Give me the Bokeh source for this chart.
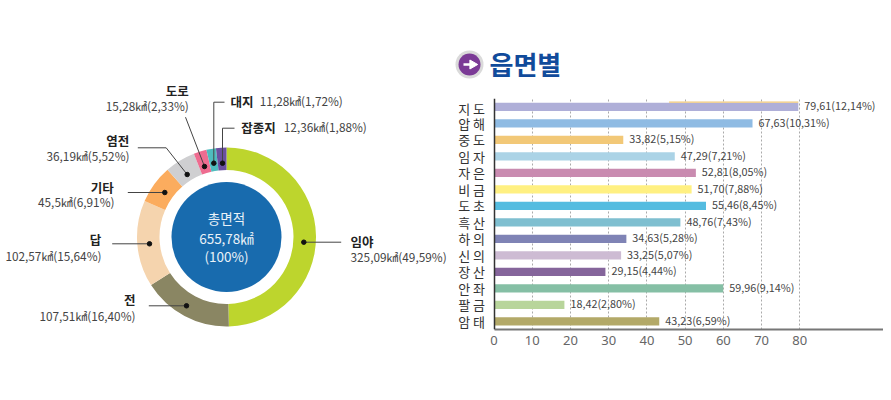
import math
from bokeh.embed import file_html
from bokeh.resources import INLINE
from bokeh.plotting import figure
from bokeh.layouts import row, column
from bokeh.models import ColumnDataSource, Range1d, FactorRange, FixedTicker
from bokeh.core.properties import value
from bokeh.transform import dodge

KR = "Noto Sans CJK KR"

land_names = ["임야", "전", "답", "기타", "염전", "도로", "대지", "잡종지"]
land_area = [325.09, 107.51, 102.57, 45.5, 36.19, 15.28, 11.28, 12.36]
land_text = ["325,09㎢(49,59%)", "107,51㎢(16,40%)", "102,57㎢(15,64%)", "45,5㎢(6,91%)",
             "36,19㎢(5,52%)", "15,28㎢(2,33%)", "11,28㎢(1,72%)", "12,36㎢(1,88%)"]
land_colors = ["#BDD52D", "#8A8663", "#F5D4AE", "#FBAC5E", "#CFCFD1", "#EE6C90", "#4FBCBE", "#6A4FA0"]

towns = ["지 도", "압 해", "중 도", "임 자", "자 은", "비 금", "도 초", "흑 산", "하 의", "신 의", "장 산", "안 좌", "팔 금", "암 태"]
town_area = [79.61, 67.63, 33.82, 47.29, 52.81, 51.70, 55.46, 48.76, 34.63, 33.25, 29.15, 59.96, 18.42, 43.23]
town_pct = [12.14, 10.31, 5.15, 7.21, 8.05, 7.88, 8.45, 7.43, 5.28, 5.07, 4.44, 9.14, 2.80, 6.59]
town_colors = ["#AFAFD8", "#8FBBE3", "#F2C877", "#ABD3E6", "#C98BB0", "#FFF081", "#54BCE0",
               "#7FBFD0", "#7F83B5", "#CDBBD3", "#85659B", "#85BFA5", "#B8D59B", "#B3A968"]
x_ticks = [0, 10, 20, 30, 40, 50, 60, 70, 80]
strip_start = [45.8]
SPLIT = 450  # where the left panel ends


def Y(py):
    return 392 - py


def blank(w, h, xr, yr):
    f = figure(width=w, height=h, x_range=xr, y_range=yr, output_backend="svg", toolbar_location=None,
               min_border=0, outline_line_color=None, background_fill_color="white", border_fill_color="white")
    f.axis.visible = False
    f.grid.visible = False
    return f


# ---------- donut ----------
left = blank(SPLIT, 392, Range1d(0, SPLIT), Range1d(0, 392))
cx, cy = 226, Y(236.5)
total = sum(land_area)
starts, ends, cum = [], [], 0.0
for v in land_area:
    starts.append(math.pi / 2 - cum / total * 2 * math.pi)
    cum += v
    ends.append(math.pi / 2 - cum / total * 2 * math.pi)
left.annular_wedge(x=[cx] * 8, y=[cy] * 8, inner_radius=67, outer_radius=89.5, start_angle=starts, end_angle=ends,
                   direction="clock", fill_color=land_colors, line_color=None)
left.circle(x=[cx], y=[cy], radius=55, fill_color="#186BAE", line_color=None)
left.text(x=[cx] * 3, y=[Y(217.5), Y(237), Y(255)], text=["총면적", "655,78㎢", "(100%)"], text_color="#EAF2F8",
          text_font=value(KR), text_font_size="13.5px", text_align="center", text_baseline="middle")

leaders = [
    [(303.3, 241.7), (340.7, 241.7)],
    [(186, 305.3), (148.3, 305.3)],
    [(149, 243.3), (111.7, 243.3)],
    [(164.3, 192), (127.3, 192)],
    [(186.7, 174), (165.7, 147.3), (137.3, 147.3)],
    [(204, 166), (185, 116.7)],
    [(213.3, 162.7), (213.3, 101.7), (224, 101.7)],
    [(222, 162.7), (222, 127.7), (234, 127.7)],
]
for pts in leaders:
    left.line([q[0] for q in pts], [Y(q[1]) for q in pts], line_color="#444444", line_width=1)
left.scatter([q[0][0] for q in leaders], [Y(q[0][1]) for q in leaders], size=4.5, color="#111111")

# name position, value position, alignment
spots = [
    ((350, 240.7), (350, 256), "left"),
    ((135, 299), (135, 314.7), "right"),
    ((100.7, 239.3), (101, 254.7), "right"),
    ((113.3, 186.7), (114, 201.3), "right"),
    ((128.7, 140), (129, 155), "right"),
    ((188.3, 90), (188.3, 105), "right"),
    ((230, 100.7), (259.3, 100), "left"),
    ((240.7, 126.7), (283.3, 126), "left"),
]
for name, txt, (npos, vpos, al) in zip(land_names, land_text, spots):
    left.text(x=[npos[0]], y=[Y(npos[1])], text=[name], text_font=value(KR), text_font_style="bold",
              text_font_size="12.5px", text_color="#222222", text_align=al, text_baseline="middle")
    left.text(x=[vpos[0]], y=[Y(vpos[1])], text=[txt], text_font=value(KR), text_font_size="11.8px",
              text_color="#444444", text_align=al, text_baseline="middle")

# ---------- section title ----------
head = blank(883 - SPLIT, 98, Range1d(SPLIT, 883), Range1d(0, 98))
hy = 98 - 64
head.circle([469], [hy], radius=14, fill_color="#DADADA", line_color=None)
head.circle([469], [hy], radius=11, fill_color="#7B3A96", line_color=None)
head.segment([463], [hy], [471], [hy], line_color="white", line_width=2.5)
head.scatter([472], [hy], marker="triangle", size=9, angle=-math.pi / 2, color="white")
head.text(x=[489], y=[hy + 1], text=["읍면별"], text_font=value(KR), text_font_style="bold", text_font_size="26px",
          text_color="#114B9B", text_align="left", text_baseline="middle")

# ---------- bars ----------
src = ColumnDataSource(dict(
    town=towns, area=town_area, color=town_colors,
    label=[f"{a:.2f}({p:.2f}%)".replace(".", ",") for a, p in zip(town_area, town_pct)],
))
px_per_unit = 3.8225
x_start = (SPLIT - 493.5) / px_per_unit
x_end = (883 - 493.5) / px_per_unit
bars = figure(width=883 - SPLIT, height=294, x_range=Range1d(x_start, x_end), y_range=FactorRange(factors=towns[::-1]),
              output_backend="svg", toolbar_location=None, min_border_left=0, min_border_right=0,
              min_border_top=0, min_border_bottom=63, outline_line_color=None)
bars.hbar(y="town", right="area", left=0, height=0.5, fill_color="color", line_color=None, source=src)
strip = ColumnDataSource(dict(town=towns[:1], start=strip_start, stop=town_area[:1]))
bars.hbar(y=dodge("town", 0.28, range=bars.y_range), left="start", right="stop", height=0.07,
          source=strip, fill_color="#F2C877", line_color=None)
bars.text(x="area", y="town", text="label", x_offset=6, y_offset=-1.5, source=src, text_font=value(KR),
          text_font_size="10.8px", text_color="#444444", text_align="left", text_baseline="middle")
bars.ygrid.visible = False
bars.xgrid.ticker = FixedTicker(ticks=x_ticks)
bars.xgrid.grid_line_color = "#AAAAAA"
bars.xgrid.grid_line_dash = "2 2"
bars.xaxis.ticker = FixedTicker(ticks=x_ticks)
bars.xaxis.bounds = (0, x_end)
bars.xaxis.major_tick_line_color = None
bars.xaxis.minor_tick_line_color = None
bars.xaxis.axis_line_color = "#777777"
bars.xaxis.axis_line_width = 2
bars.xaxis.major_label_text_font = "Noto Sans"
bars.xaxis.major_label_text_font_size = "13px"
bars.xaxis.major_label_text_color = "#666666"
bars.xaxis.major_label_standoff = 0
bars.yaxis.fixed_location = 0
bars.yaxis.major_tick_line_color = None
bars.yaxis.minor_tick_line_color = None
bars.yaxis.axis_line_color = "#333333"
bars.yaxis.axis_line_width = 1.5
bars.yaxis.major_label_text_font = KR
bars.yaxis.major_label_text_font_size = "13px"
bars.yaxis.major_label_text_color = "#333333"
bars.yaxis.major_label_standoff = 3

page = row(left, column(head, bars, spacing=0), spacing=0)
open("out.html", "w").write(file_html(page, INLINE))
